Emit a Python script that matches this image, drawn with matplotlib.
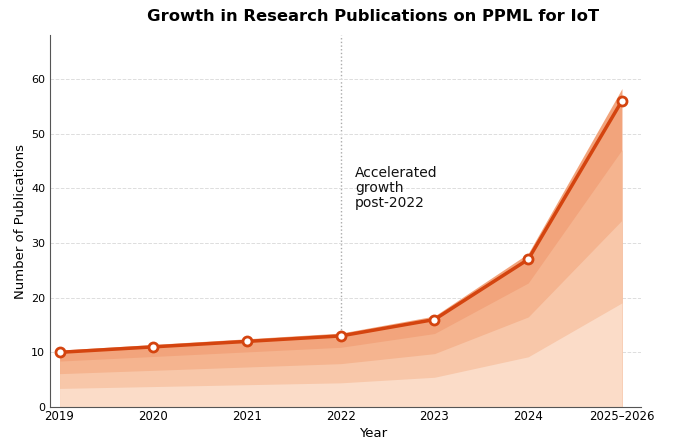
import numpy as np
import matplotlib.pyplot as plt

# data
years = ['2019', '2020', '2021', '2022', '2023', '2024', '2025–2026']
pubs = [10, 11, 12, 13, 16, 27, 56]

# band tops as fraction of the publication count (outer to inner)
band_fracs = [1.04, 0.84, 0.61, 0.34]
band_colors = ['#f2a47c', '#f5b48f', '#f8c7a9', '#fbdcc8']

x = np.arange(len(years))
y = np.array(pubs, dtype=float)

fig, ax = plt.subplots(figsize=(6.78, 4.4), dpi=100)

for f, c in zip(band_fracs, band_colors):
    ax.fill_between(x, 0, y * f, color=c, lw=0, zorder=1)

ax.plot(x, y, color='#d4440f', lw=2.5, marker='o', ms=6.5,
        mfc='white', mec='#d4440f', mew=2, zorder=3)

ax.axvline(3, color='#aaaaaa', ls=':', lw=1, zorder=0)
ax.text(3.15, 44, 'Accelerated\ngrowth\npost-2022', fontsize=10,
        va='top', ha='left', color='#111111', linespacing=1.05)

ax.set_xticks(x)
ax.set_xticklabels(years, fontsize=8.5)
ax.set_xlim(-0.1, 6.2)
ax.set_ylim(0, 68)
ax.set_yticks(range(0, 61, 10))
ax.tick_params(axis='y', labelsize=8, length=0)
ax.tick_params(axis='x', length=0, pad=2)
ax.grid(axis='y', ls='--', color='#dddddd', lw=0.7, zorder=0)
ax.set_axisbelow(True)

for s in ['top', 'right']:
    ax.spines[s].set_visible(False)
for s in ['left', 'bottom']:
    ax.spines[s].set_color('#555555')

ax.set_xlabel('Year', fontsize=9.5, labelpad=3, x=0.547)
ax.set_ylabel('Number of Publications', fontsize=9.5, labelpad=3)
ax.set_title('Growth in Research Publications on PPML for IoT',
             fontsize=11.8, fontweight='bold', x=0.547, pad=10)

plt.subplots_adjust(left=0.074, right=0.945, top=0.92, bottom=0.075)
plt.savefig('out.png')
